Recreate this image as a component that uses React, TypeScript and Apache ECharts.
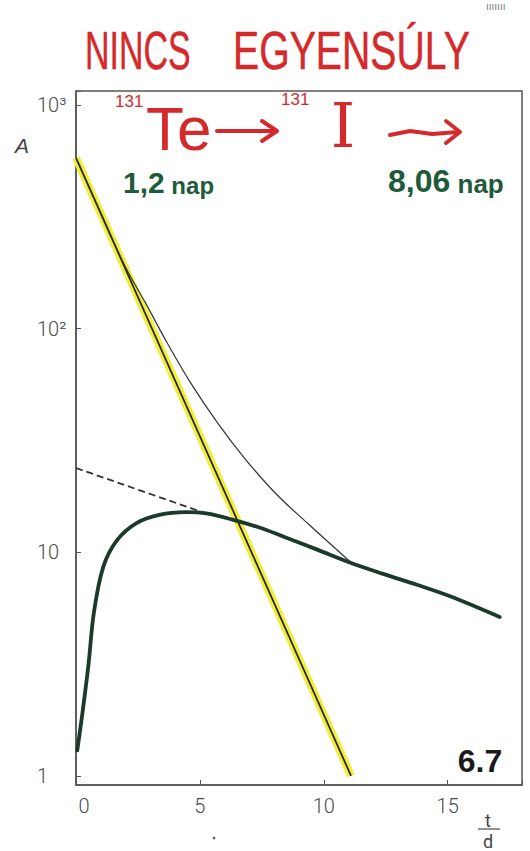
import React, { useEffect, useRef } from "react";
import * as echarts from "echarts";

// ---- data (t in days, A activity, log scale) ----
const teT = [0, 11.1];
const teA = [580, 1];

const dashT = [0, 5.1];
const dashA = [23.8, 15.1];

const totalT = [0, 1, 2, 2.81, 3.65, 4.6, 5.72, 6.83, 8.06, 9.4, 11.05];
const totalA = [580, 330, 188, 130, 87.5, 57.8, 37.8, 26.1, 18.3, 13.3, 9.1];

const iodT = [0.05, 0.26, 0.51, 0.72, 1.1, 1.65, 2.44, 3.36, 4.45, 5.26, 6.31, 7.4, 8.33, 9.71, 11.05, 12.4, 13.76, 15.1, 17.1];
const iodA = [1.3, 1.91, 3.19, 5.35, 8.6, 11.3, 13.5, 14.7, 15.1, 14.9, 14.0, 12.9, 11.8, 10.3, 9.0, 8.0, 7.15, 6.35, 5.13];

const xTicks = [0, 5, 10, 15];
const yTickLabels: Record<number, string> = { 0: "1", 1: "10", 2: "10²", 3: "10³" };

const zip = (a: number[], b: number[]) => a.map((v, i) => [v, b[i]]);

const RED = "#d42a2c";
const GREEN = "#1f5a3a";
const AX = "#555";

export default function App() {
  const ref = useRef<HTMLDivElement>(null);
  useEffect(() => {
    if (!ref.current) return;
    const chart = echarts.init(ref.current, null, { renderer: "svg" });
    chart.setOption({
      animation: false,
      backgroundColor: "#ffffff",
      grid: {
        left: 76,
        right: 8,
        top: 91,
        bottom: 66,
        show: true,
        borderColor: AX,
        borderWidth: 1.5,
        backgroundColor: "transparent",
      },
      xAxis: {
        type: "value",
        min: 0,
        max: 18,
        interval: 5,
        splitLine: { show: false },
        axisLine: { show: true, lineStyle: { color: AX, width: 1.5 } },
        axisTick: { show: true, inside: true, length: 5, lineStyle: { color: AX } },
        axisLabel: {
          margin: 11,
          fontSize: 20,
          fontFamily: "Roboto",
          fontWeight: 300,
          color: "#4a4a4a",
          formatter: (v: number) =>
            xTicks.includes(v) ? (v === 0 ? "{z|0}" : String(v)) : "",
          rich: {
            z: { padding: [0, 0, 0, 16], fontSize: 20, fontFamily: "Roboto", fontWeight: 300, color: "#4a4a4a" },
          },
        },
      },
      yAxis: {
        type: "log",
        logBase: 10,
        min: 0.91,
        max: 1155,
        splitLine: { show: false },
        minorTick: { show: false },
        axisLine: { show: true, lineStyle: { color: AX, width: 1.5 } },
        axisTick: { show: true, inside: true, length: 5, lineStyle: { color: AX } },
        axisLabel: {
          align: "left",
          margin: 39,
          fontSize: 20,
          fontFamily: "Roboto",
          fontWeight: 300,
          color: "#4a4a4a",
          formatter: (v: number) => {
            const e = Math.log10(v);
            const r = Math.round(e);
            if (Math.abs(e - r) < 1e-6 && yTickLabels[r] !== undefined) return yTickLabels[r];
            return "";
          },
        },
      },
      series: [
        {
          type: "line",
          data: zip(teT, teA),
          symbol: "none",
          lineStyle: { color: "#f2ec3a", width: 8 },
          z: 1,
        },
        {
          type: "line",
          data: zip(teT, teA),
          symbol: "none",
          lineStyle: { color: "#222", width: 1.7 },
          z: 2,
        },
        {
          type: "line",
          data: zip(dashT, dashA),
          symbol: "none",
          lineStyle: { color: "#333", width: 1.8, type: [7, 4] },
          z: 2,
        },
        {
          type: "line",
          data: zip(totalT, totalA),
          symbol: "none",
          smooth: 0.35,
          lineStyle: { color: "#333", width: 1.2 },
          z: 3,
        },
        {
          type: "line",
          data: zip(iodT, iodA),
          symbol: "none",
          smooth: 0.35,
          lineStyle: { color: "#1c3a2c", width: 3.8, cap: "round", join: "round" },
          z: 4,
        },
      ],
      graphic: [
        {
          type: "text",
          x: 85,
          y: 51,
          scaleX: 0.64,
          style: { text: "NINCS", fontSize: 53, fontFamily: "Liberation Sans", fill: RED, stroke: RED, lineWidth: 0.5, align: "left", verticalAlign: "middle" },
        },
        {
          type: "text",
          x: 233,
          y: 51,
          scaleX: 0.74,
          style: { text: "EGYENSÚLY", fontSize: 53, fontFamily: "Liberation Sans", fill: RED, stroke: RED, lineWidth: 0.5, align: "left", verticalAlign: "middle" },
        },
        {
          type: "text",
          x: 115,
          y: 101,
          style: { text: "131", fontSize: 17, fontFamily: "Liberation Sans", fill: RED, align: "left", verticalAlign: "middle" },
        },
        {
          type: "text",
          x: 146,
          y: 128,
          style: { text: "Te", fontSize: 62, fontFamily: "Liberation Sans", fill: RED, align: "left", verticalAlign: "middle" },
        },
        {
          type: "line",
          shape: { x1: 217, y1: 131, x2: 275, y2: 131 },
          style: { stroke: RED, lineWidth: 4, lineCap: "round" },
        },
        {
          type: "polyline",
          shape: { points: [[262, 121], [277, 131], [262, 141]] },
          style: { stroke: RED, lineWidth: 4, lineCap: "round", lineJoin: "round", fill: "none" },
        },
        {
          type: "text",
          x: 281,
          y: 99,
          style: { text: "131", fontSize: 17, fontFamily: "Liberation Sans", fill: RED, align: "left", verticalAlign: "middle" },
        },
        {
          type: "text",
          x: 343,
          y: 125,
          style: { text: "I", fontSize: 62, fontFamily: "DejaVu Serif", fill: RED, align: "center", verticalAlign: "middle" },
        },
        {
          type: "polyline",
          shape: { points: [[390, 135], [410, 131], [432, 134], [458, 132]] },
          style: { stroke: RED, lineWidth: 4, lineCap: "round", lineJoin: "round", fill: "none" },
        },
        {
          type: "polyline",
          shape: { points: [[446, 121], [460, 132], [446, 143]] },
          style: { stroke: RED, lineWidth: 4, lineCap: "round", lineJoin: "round", fill: "none" },
        },
        {
          type: "text",
          x: 123,
          y: 197,
          style: {
            text: "{a|1,2}{b| nap}",
            align: "left",
            verticalAlign: "bottom",
            rich: {
              a: { fontSize: 30, fontWeight: "bold", fontFamily: "Liberation Sans", fill: GREEN, color: GREEN, verticalAlign: "bottom" },
              b: { fontSize: 24, fontWeight: "bold", fontFamily: "Liberation Sans", fill: GREEN, color: GREEN, verticalAlign: "bottom" },
            },
          },
        },
        {
          type: "text",
          x: 388,
          y: 197,
          style: {
            text: "{a|8,06}{b| nap}",
            align: "left",
            verticalAlign: "bottom",
            rich: {
              a: { fontSize: 32, fontWeight: "bold", fontFamily: "Liberation Sans", fill: GREEN, color: GREEN, verticalAlign: "bottom" },
              b: { fontSize: 26, fontWeight: "bold", fontFamily: "Liberation Sans", fill: GREEN, color: GREEN, verticalAlign: "bottom" },
            },
          },
        },
        {
          type: "text",
          x: 22,
          y: 145,
          style: { text: "A", fontSize: 21, fontStyle: "italic", fontFamily: "Liberation Sans", fill: "#444", align: "center", verticalAlign: "middle" },
        },
        {
          type: "text",
          x: 480,
          y: 761,
          style: { text: "6.7", fontSize: 32, fontWeight: "bold", fontFamily: "Liberation Sans", fill: "#1a1a1a", align: "center", verticalAlign: "middle" },
        },
        {
          type: "text",
          x: 488,
          y: 820,
          style: { text: "t", fontSize: 18, fontFamily: "Roboto", fill: "#444", align: "center", verticalAlign: "middle" },
        },
        {
          type: "line",
          shape: { x1: 478, y1: 829, x2: 500, y2: 829 },
          style: { stroke: "#555", lineWidth: 1.3 },
        },
        {
          type: "text",
          x: 488,
          y: 841,
          style: { text: "d", fontSize: 18, fontFamily: "Roboto", fill: "#444", align: "center", verticalAlign: "middle" },
        },
        {
          type: "text",
          x: 486,
          y: 6,
          style: { text: "ııııııı", fontSize: 10, fontFamily: "DejaVu Sans", fill: "#777", align: "left", verticalAlign: "middle" },
        },
        {
          type: "circle",
          shape: { cx: 214, cy: 838, r: 1.4 },
          style: { fill: "#666" },
        },
      ],
    });
    return () => chart.dispose();
  }, []);
  return (
    <div
      ref={ref}
      style={{ position: "absolute", left: 0, top: 0, width: 530, height: 851 }}
    />
  );
}
